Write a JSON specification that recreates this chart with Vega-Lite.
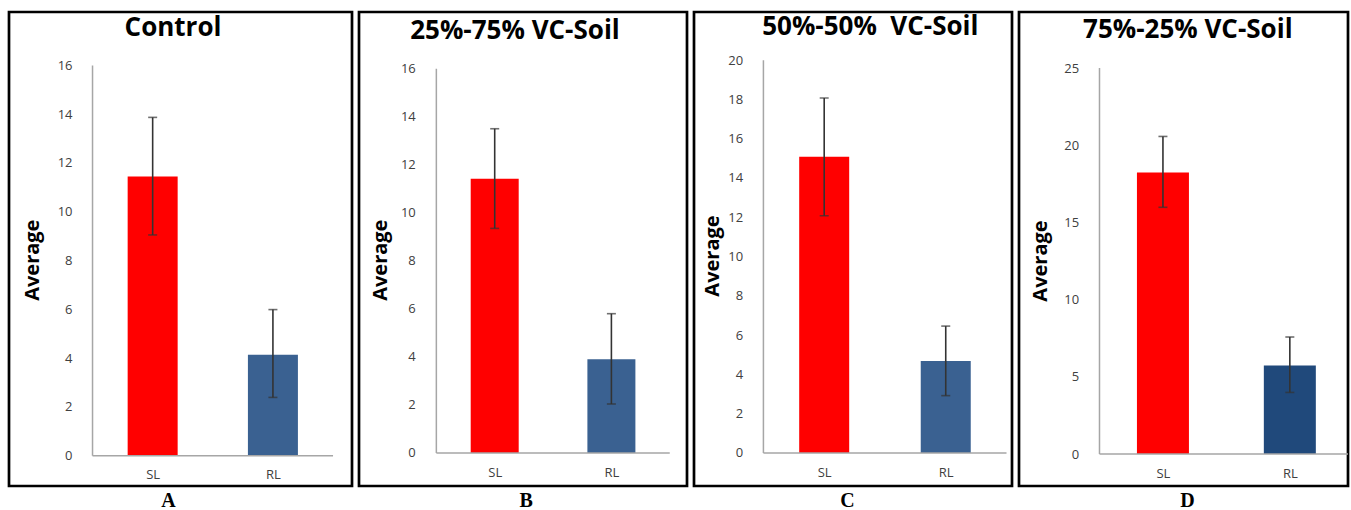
{
  "$schema": "https://vega.github.io/schema/vega-lite/v6.json",
  "padding": {"left": 7, "top": 10, "right": 0, "bottom": 0},
  "background": "white",
  "spacing": 3,
  "resolve": {"scale": {"color": "independent", "x": "independent", "y": "independent"}},
  "config": {
    "view": {"stroke": "#000000", "strokeWidth": 2.7},
    "axis": {"domain": false, "ticks": false, "tickSize": 0, "grid": false, "labelFont": "Open Sans", "labelFontSize": 13, "labelColor": "#404040"},
    "title": {"font": "Open Sans", "fontSize": 26, "fontWeight": "bold", "color": "#000000", "anchor": "middle", "baseline": "alphabetic", "offset": 0}
  },
  "hconcat": [
    {
      "width": 343, "height": 474,
      "title": {"text": "Control", "dx": -7.5, "dy": 33},
      "data": {"values": [
        {"cat": "SL", "i": 1, "mean": 11.45, "lo": 9.05, "hi": 13.87},
        {"cat": "RL", "i": 2, "mean": 4.14, "lo": 2.39, "hi": 5.99}
      ]},
      "layer": [
        {"mark": {"type": "bar", "size": 50, "orient": "vertical"},
         "encoding": {
           "x": {"field": "i", "type": "quantitative", "scale": {"domain": [-0.153, 2.616], "nice": false, "zero": false},
                 "axis": {"values": [1, 2], "labelExpr": "datum.value == 1 ? 'SL' : 'RL'", "offset": -30.3, "labelPadding": 13,
                          "title": "A", "titleFont": "Liberation Serif", "titleFontSize": 20, "titleFontWeight": "bold", "titleColor": "#000000",
                          "titleX": 159, "titleY": 50.5, "titleBaseline": "alphabetic", "titleAlign": "center"}},
           "y": {"field": "mean", "type": "quantitative", "scale": {"domain": [-1.242, 18.19], "nice": false, "zero": false},
                 "axis": {"values": [0, 2, 4, 6, 8, 10, 12, 14, 16], "offset": -81, "labelPadding": 18,
                          "title": "Average", "titleFont": "Open Sans", "titleFontSize": 20, "titleFontWeight": "bold", "titleColor": "#000000",
                          "titleX": -57.7, "titleY": 247.7, "titleBaseline": "middle", "titleAngle": -90, "titleAlign": "center"}},
           "color": {"field": "cat", "type": "nominal", "scale": {"domain": ["SL", "RL"], "range": ["#ff0000", "#3a6191"]}, "legend": null}
         }},
        {"mark": {"type": "rule", "color": "#333333", "strokeWidth": 1.6},
         "encoding": {"x": {"field": "i", "type": "quantitative"}, "y": {"field": "lo", "type": "quantitative"}, "y2": {"field": "hi"}}},
        {"mark": {"type": "tick", "color": "#333333", "thickness": 1.6, "size": 9, "orient": "horizontal"},
         "encoding": {"x": {"field": "i", "type": "quantitative"}, "y": {"field": "lo", "type": "quantitative"}}},
        {"mark": {"type": "tick", "color": "#333333", "thickness": 1.6, "size": 9, "orient": "horizontal"},
         "encoding": {"x": {"field": "i", "type": "quantitative"}, "y": {"field": "hi", "type": "quantitative"}}},
        {"data": {"values": [{"line": "y"}]},
         "mark": {"type": "rule", "color": "#a6a6a6", "strokeWidth": 1.5, "clip": true},
         "encoding": {"x": {"datum": 0.5}, "y": {"datum": 0}, "y2": {"datum": 16}}},
        {"data": {"values": [{"line": "x"}]},
         "mark": {"type": "rule", "color": "#a6a6a6", "strokeWidth": 1.5, "clip": true},
         "encoding": {"x": {"datum": 0.5}, "x2": {"datum": 2.5}, "y": {"datum": 0}}}
      ]
    },
    {
      "width": 328, "height": 474,
      "title": {"text": "25%-75% VC-Soil", "dx": -8, "dy": 36},
      "data": {"values": [
        {"cat": "SL", "i": 1, "mean": 11.42, "lo": 9.35, "hi": 13.5},
        {"cat": "RL", "i": 2, "mean": 3.9, "lo": 2.04, "hi": 5.8}
      ]},
      "layer": [
        {"mark": {"type": "bar", "size": 48, "orient": "vertical"},
         "encoding": {
           "x": {"field": "i", "type": "quantitative", "scale": {"domain": [-0.12, 2.605], "nice": false, "zero": false},
                 "axis": {"values": [1, 2], "labelExpr": "datum.value == 1 ? 'SL' : 'RL'", "offset": -33, "labelPadding": 13,
                          "title": "B", "titleFont": "Liberation Serif", "titleFontSize": 20, "titleFontWeight": "bold", "titleColor": "#000000",
                          "titleX": 166.7, "titleY": 53.2, "titleBaseline": "alphabetic", "titleAlign": "center"}},
           "y": {"field": "mean", "type": "quantitative", "scale": {"domain": [-1.374, 18.36], "nice": false, "zero": false},
                 "axis": {"values": [0, 2, 4, 6, 8, 10, 12, 14, 16], "offset": -74.3, "labelPadding": 18,
                          "title": "Average", "titleFont": "Open Sans", "titleFontSize": 20, "titleFontWeight": "bold", "titleColor": "#000000",
                          "titleX": -53.3, "titleY": 247.7, "titleBaseline": "middle", "titleAngle": -90, "titleAlign": "center"}},
           "color": {"field": "cat", "type": "nominal", "scale": {"domain": ["SL", "RL"], "range": ["#ff0000", "#3a6191"]}, "legend": null}
         }},
        {"mark": {"type": "rule", "color": "#333333", "strokeWidth": 1.6},
         "encoding": {"x": {"field": "i", "type": "quantitative"}, "y": {"field": "lo", "type": "quantitative"}, "y2": {"field": "hi"}}},
        {"mark": {"type": "tick", "color": "#333333", "thickness": 1.6, "size": 9, "orient": "horizontal"},
         "encoding": {"x": {"field": "i", "type": "quantitative"}, "y": {"field": "lo", "type": "quantitative"}}},
        {"mark": {"type": "tick", "color": "#333333", "thickness": 1.6, "size": 9, "orient": "horizontal"},
         "encoding": {"x": {"field": "i", "type": "quantitative"}, "y": {"field": "hi", "type": "quantitative"}}},
        {"data": {"values": [{"line": "y"}]},
         "mark": {"type": "rule", "color": "#a6a6a6", "strokeWidth": 1.5, "clip": true},
         "encoding": {"x": {"datum": 0.5}, "y": {"datum": 0}, "y2": {"datum": 16}}},
        {"data": {"values": [{"line": "x"}]},
         "mark": {"type": "rule", "color": "#a6a6a6", "strokeWidth": 1.5, "clip": true},
         "encoding": {"x": {"datum": 0.5}, "x2": {"datum": 2.5}, "y": {"datum": 0}}}
      ]
    },
    {
      "width": 318, "height": 474,
      "title": {"text": "50%-50%\u00a0 VC-Soil", "dx": 17.3, "dy": 31.5},
      "data": {"values": [
        {"cat": "SL", "i": 1, "mean": 15.08, "lo": 12.08, "hi": 18.07},
        {"cat": "RL", "i": 2, "mean": 4.68, "lo": 2.92, "hi": 6.46}
      ]},
      "layer": [
        {"mark": {"type": "bar", "size": 50, "orient": "vertical"},
         "encoding": {
           "x": {"field": "i", "type": "quantitative", "scale": {"domain": [-0.03, 2.504], "nice": false, "zero": false},
                 "axis": {"values": [1, 2], "labelExpr": "datum.value == 1 ? 'SL' : 'RL'", "offset": -33, "labelPadding": 13,
                          "title": "C", "titleFont": "Liberation Serif", "titleFontSize": 20, "titleFontWeight": "bold", "titleColor": "#000000",
                          "titleX": 153, "titleY": 53.2, "titleBaseline": "alphabetic", "titleAlign": "center"}},
           "y": {"field": "mean", "type": "quantitative", "scale": {"domain": [-1.68, 22.45], "nice": false, "zero": false},
                 "axis": {"values": [0, 2, 4, 6, 8, 10, 12, 14, 16, 18, 20], "offset": -66.7, "labelPadding": 18,
                          "title": "Average", "titleFont": "Open Sans", "titleFontSize": 20, "titleFontWeight": "bold", "titleColor": "#000000",
                          "titleX": -48.4, "titleY": 243.5, "titleBaseline": "middle", "titleAngle": -90, "titleAlign": "center"}},
           "color": {"field": "cat", "type": "nominal", "scale": {"domain": ["SL", "RL"], "range": ["#ff0000", "#3a6191"]}, "legend": null}
         }},
        {"mark": {"type": "rule", "color": "#333333", "strokeWidth": 1.6},
         "encoding": {"x": {"field": "i", "type": "quantitative"}, "y": {"field": "lo", "type": "quantitative"}, "y2": {"field": "hi"}}},
        {"mark": {"type": "tick", "color": "#333333", "thickness": 1.6, "size": 9, "orient": "horizontal"},
         "encoding": {"x": {"field": "i", "type": "quantitative"}, "y": {"field": "lo", "type": "quantitative"}}},
        {"mark": {"type": "tick", "color": "#333333", "thickness": 1.6, "size": 9, "orient": "horizontal"},
         "encoding": {"x": {"field": "i", "type": "quantitative"}, "y": {"field": "hi", "type": "quantitative"}}},
        {"data": {"values": [{"line": "y"}]},
         "mark": {"type": "rule", "color": "#a6a6a6", "strokeWidth": 1.5, "clip": true},
         "encoding": {"x": {"datum": 0.5}, "y": {"datum": 0}, "y2": {"datum": 20}}},
        {"data": {"values": [{"line": "x"}]},
         "mark": {"type": "rule", "color": "#a6a6a6", "strokeWidth": 1.5, "clip": true},
         "encoding": {"x": {"datum": 0.5}, "x2": {"datum": 2.5}, "y": {"datum": 0}}}
      ]
    },
    {
      "width": 329, "height": 474,
      "title": {"text": "75%-25% VC-Soil", "dx": 4.3, "dy": 34.5},
      "data": {"values": [
        {"cat": "SL", "i": 1, "mean": 18.24, "lo": 15.98, "hi": 20.57},
        {"cat": "RL", "i": 2, "mean": 5.74, "lo": 3.99, "hi": 7.58}
      ]},
      "layer": [
        {"mark": {"type": "bar", "size": 52, "orient": "vertical"},
         "encoding": {
           "x": {"field": "i", "type": "quantitative", "scale": {"domain": [-0.095, 2.419], "nice": false, "zero": false},
                 "axis": {"values": [1, 2], "labelExpr": "datum.value == 1 ? 'SL' : 'RL'", "offset": -32, "labelPadding": 13,
                          "title": "D", "titleFont": "Liberation Serif", "titleFontSize": 20, "titleFontWeight": "bold", "titleColor": "#000000",
                          "titleX": 168, "titleY": 52.2, "titleBaseline": "alphabetic", "titleAlign": "center"}},
           "y": {"field": "mean", "type": "quantitative", "scale": {"domain": [-2.07, 28.63], "nice": false, "zero": false},
                 "axis": {"values": [0, 5, 10, 15, 20, 25], "offset": -77.7, "labelPadding": 18,
                          "title": "Average", "titleFont": "Open Sans", "titleFontSize": 20, "titleFontWeight": "bold", "titleColor": "#000000",
                          "titleX": -56, "titleY": 248.5, "titleBaseline": "middle", "titleAngle": -90, "titleAlign": "center"}},
           "color": {"field": "cat", "type": "nominal", "scale": {"domain": ["SL", "RL"], "range": ["#ff0000", "#20497b"]}, "legend": null}
         }},
        {"mark": {"type": "rule", "color": "#333333", "strokeWidth": 1.6},
         "encoding": {"x": {"field": "i", "type": "quantitative"}, "y": {"field": "lo", "type": "quantitative"}, "y2": {"field": "hi"}}},
        {"mark": {"type": "tick", "color": "#333333", "thickness": 1.6, "size": 9, "orient": "horizontal"},
         "encoding": {"x": {"field": "i", "type": "quantitative"}, "y": {"field": "lo", "type": "quantitative"}}},
        {"mark": {"type": "tick", "color": "#333333", "thickness": 1.6, "size": 9, "orient": "horizontal"},
         "encoding": {"x": {"field": "i", "type": "quantitative"}, "y": {"field": "hi", "type": "quantitative"}}},
        {"data": {"values": [{"line": "y"}]},
         "mark": {"type": "rule", "color": "#a6a6a6", "strokeWidth": 1.5, "clip": true},
         "encoding": {"x": {"datum": 0.5}, "y": {"datum": 0}, "y2": {"datum": 25}}},
        {"data": {"values": [{"line": "x"}]},
         "mark": {"type": "rule", "color": "#a6a6a6", "strokeWidth": 1.5, "clip": true},
         "encoding": {"x": {"datum": 0.5}, "x2": {"datum": 2.5}, "y": {"datum": 0}}}
      ]
    }
  ]
}
